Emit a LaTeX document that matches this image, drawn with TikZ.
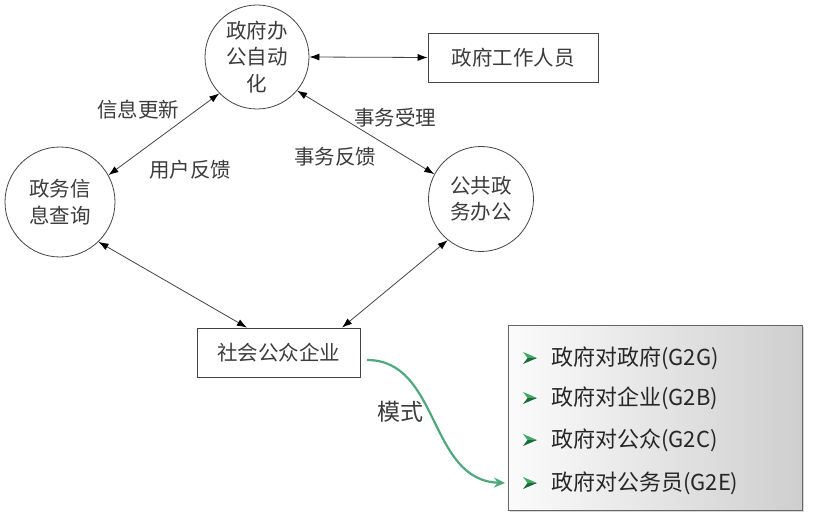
\documentclass[tikz,border=0pt]{standalone}
\usepackage{fontspec}
\newfontfamily\cjk{Noto Sans CJK SC}
\usetikzlibrary{arrows.meta,shadows,calc}
\definecolor{txt}{HTML}{3C3C3C}
\definecolor{edge}{HTML}{444444}
\definecolor{gcurve}{HTML}{4FA97C}
\definecolor{gbul}{HTML}{3DAA66}
\definecolor{gbuldark}{HTML}{1E6B3A}
\begin{document}
\begin{tikzpicture}[x=1pt,y=-1pt,
  circ/.style={circle,draw=edge,line width=0.8pt,inner sep=0pt,align=center,font=\cjk\fontsize{20.5}{26.5}\selectfont,text=txt},
  plainbox/.style={rectangle,draw=edge,line width=0.8pt,inner sep=0pt,font=\cjk\fontsize{20.5}{24}\selectfont,text=txt},
  lab/.style={font=\cjk\fontsize{20.5}{24}\selectfont,text=txt,inner sep=0pt},
  link/.style={{Latex[length=10pt,width=7pt,color=black]}-{Latex[length=10pt,width=7pt,color=black]},draw=edge,line width=0.8pt},
  itemtext/.style={anchor=west,font=\cjk\fontsize{22}{24}\selectfont,text=black!85,inner sep=0pt},
  barrow/.pic={
    \fill[gbul] (-7,-6) -- (7,0) -- (-2.5,0) -- cycle;
    \fill[gbuldark] (-7,6) -- (7,0) -- (-2.5,0) -- cycle;
  }
]
\useasboundingbox (0,0) rectangle (815,524);
\fill[white] (0,0) rectangle (815,524);

\node[circ,minimum size=104pt] (c1) at (257,57) {政府办\\公自动\\化};
\node[circ,minimum size=110pt] (c2) at (60,202) {政务信\\息查询};
\node[circ,minimum size=105pt] (c3) at (481,199) {公共政\\务办公};
\node[plainbox,minimum width=170pt,minimum height=49pt] (r1) at (513,57.5) {政府工作人员};
\node[plainbox,minimum width=163pt,minimum height=49pt] (r2) at (278.5,352.5) {社会公众企业};

\draw[link] (c1.east) -- (r1.west);
\draw[link] (c1.224) -- (c2.29);
\draw[link] (c1.320) -- (c3.152);
\draw[link] (c2.314) -- ([xshift=-31.5pt]r2.north);
\draw[link] (c3.231) -- ([xshift=63.5pt]r2.north);

\node[lab] (l1) at (138,110) {信息更新};
\node[lab] (l2) at (190,170) {用户反馈};
\node[lab] (l3) at (395,118) {事务受理};
\node[lab] (l4) at (335,157) {事务反馈};

\node[rectangle,draw=black!60,line width=0.8pt,minimum width=294pt,minimum height=185pt,
      left color=white!97!gray,right color=gray!38,
      drop shadow={opacity=0.3,shadow xshift=2pt,shadow yshift=-2pt}] (mbox) at (655,417.5) {};

\pic at (530,358) {barrow};
\pic at (530,398) {barrow};
\pic at (530,440) {barrow};
\pic at (530,483) {barrow};
\node[itemtext] (i1) at (551,358) {政府对政府(G2G)};
\node[itemtext] (i2) at (551,398) {政府对企业(G2B)};
\node[itemtext] (i3) at (551,440) {政府对公众(G2C)};
\node[itemtext] (i4) at (551,483) {政府对公务员(G2E)};

\coordinate (gs) at (367,360);
\coordinate (ge) at (505,483);
\draw[gcurve,line width=2.2pt,-{Stealth[length=11pt,width=10pt]}] (gs) .. controls (440,360) and (428,480) .. (ge);
\node[font=\cjk\fontsize{23}{26}\selectfont,text=txt,inner sep=0pt] (ms) at (400,412) {模式};
\end{tikzpicture}
\end{document}
